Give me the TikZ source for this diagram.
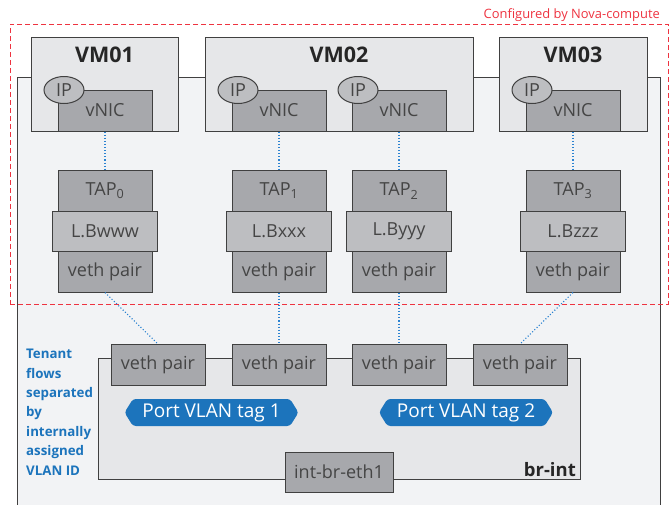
\documentclass[tikz,border=0pt]{standalone}
\usepackage{fontspec}
\setmainfont{Open Sans}
\usetikzlibrary{shapes.geometric,shapes.symbols}
\definecolor{hostfill}{HTML}{F2F3F5}
\definecolor{vmfill}{HTML}{E6E7E9}
\definecolor{darkfill}{HTML}{A7A8AC}
\definecolor{lightfill}{HTML}{BDBEC1}
\definecolor{bordercol}{HTML}{404040}
\definecolor{textgrey}{HTML}{454545}
\definecolor{tagblue}{HTML}{1C74BC}
\definecolor{novared}{HTML}{EE3340}
\definecolor{linkblue}{HTML}{2B82D1}
\tikzset{
  boxfont/.style={font=\fontsize{18}{21}\selectfont},
  box/.style={draw=bordercol,line width=1pt,inner sep=0pt,text=textgrey,boxfont},
  vmbox/.style={box,fill=vmfill,minimum height=94pt},
  nic/.style={box,fill=darkfill,minimum width=94pt,minimum height=41pt},
  lbbox/.style={box,fill=lightfill,minimum width=105pt,minimum height=40pt},
  ipell/.style={box,ellipse,fill=lightfill,minimum width=40pt,minimum height=27pt},
  boxtext/.style={inner sep=0pt,text=textgrey,boxfont},
  vmlabel/.style={anchor=base,inner sep=0pt,font=\fontsize{21.5}{25}\selectfont\bfseries,text=black!85},
  vlantag/.style={signal,signal to=west and east,signal pointer angle=116,fill=tagblue,
    rounded corners=3pt,minimum width=174pt,minimum height=27pt,inner sep=0pt,text=white,
    font=\fontsize{19}{22}\selectfont},
  link/.style={draw=linkblue,line width=1.1pt,dotted},
}
\begin{document}
\begin{tikzpicture}[x=1pt,y=-1pt]
\useasboundingbox (0,0) rectangle (671,504);
% host
\node[draw=bordercol,line width=1pt,fill=hostfill,minimum width=643pt,minimum height=433pt,inner sep=0pt] (host) at (338.5,293.5) {};
% VMs
\node[vmbox,minimum width=147pt] (vm1) at (104.5,84) {};
\node[vmbox,minimum width=268pt] (vm2) at (339,84) {};
\node[vmbox,minimum width=148pt] (vm3) at (573,84) {};
\node[vmlabel] (vm1l) at (104.5,62) {VM01};
\node[vmlabel] (vm2l) at (339,62) {VM02};
\node[vmlabel] (vm3l) at (573,62) {VM03};
% vNICs
\foreach \i/\x in {0/105,1/279,2/399,3/573}{
  \node[nic] (nic\i) at (\x,110.5) {vNIC};
  \node[ipell] (ip\i) at ({\x-41},90) {IP};
  \node[nic] (tap\i) at (\x,191) {};
  \node[lbbox] (lb\i) at (\x,231) {};
  \node[nic] (veth\i) at (\x,271.5) {veth pair};
  \draw[link] (nic\i.south) -- (tap\i.north);
}
\node[boxtext] (tap0t) at (tap0) {TAP\textsubscript{0}};
\node[boxtext] (tap1t) at (tap1) {TAP\textsubscript{1}};
\node[boxtext] (tap2t) at (tap2) {TAP\textsubscript{2}};
\node[boxtext] (tap3t) at (tap3) {TAP\textsubscript{3}};
\node[boxtext] (lb0t) at (lb0) {L.Bwww};
\node[boxtext] (lb1t) at (lb1) {L.Bxxx};
\node[boxtext] (lb2t) at (lb2) {L.Byyy};
\node[boxtext] (lb3t) at (lb3) {L.Bzzz};
% nova dashed box
\node[draw=novared,line width=1pt,dash pattern=on 5pt off 3pt,minimum width=658pt,minimum height=280pt,inner sep=0pt] (nova) at (339,164) {};
\node[anchor=base east,inner sep=0pt,text=novared,font=\fontsize{12.9}{15}\selectfont] (novat) at (660,18) {Configured by Nova-compute};
% br-int
\node[draw=bordercol,line width=1pt,fill=vmfill,minimum width=482pt,minimum height=121pt,inner sep=0pt] (brint) at (339,418.5) {};
\node[anchor=base east,inner sep=0pt,font=\fontsize{18.5}{22}\selectfont\bfseries,text=black!85] (brintl) at (576,476) {br-int};
\foreach \i/\x in {1/158,2/279,3/399,4/520}{
  \node[nic] (bv\i) at (\x,365) {veth pair};
}
\node[box,fill=darkfill,minimum width=108pt,minimum height=40pt] (ibe) at (339,472) {int-br-eth1};
\node[vlantag] (tag1) at (211.5,412.5) {Port VLAN tag 1};
\node[vlantag] (tag2) at (466,412.5) {Port VLAN tag 2};
% links
\draw[link] (veth0.south) -- (bv1.north);
\draw[link] (veth1.south) -- (bv2.north);
\draw[link] (veth2.south) -- (bv3.north);
\draw[link] (veth3.south) -- (bv4.north);
% tenant text
\node[anchor=north west,inner sep=0pt,align=left,text=tagblue,font=\fontsize{13.3}{19.4}\selectfont\bfseries] (tenant) at (26,349) {Tenant\\flows\\separated\\by\\internally\\assigned\\VLAN ID};
\end{tikzpicture}
\end{document}
